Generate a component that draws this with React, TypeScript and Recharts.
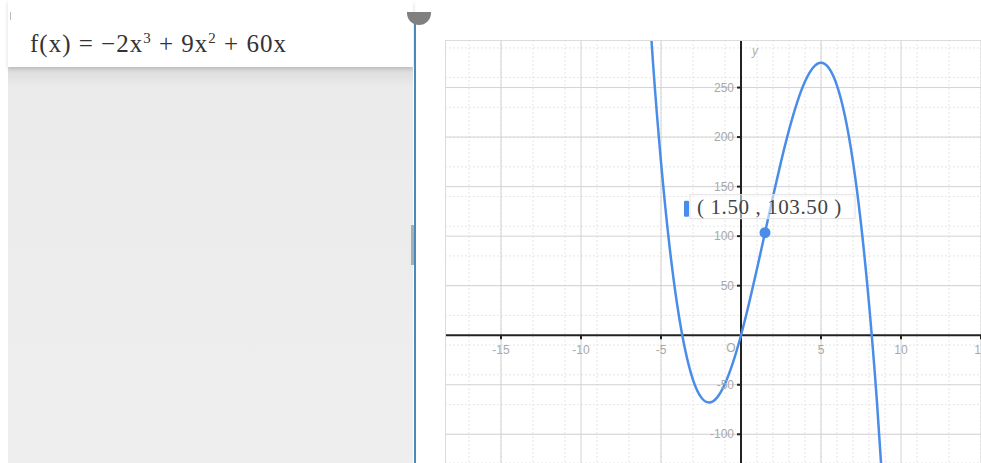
import React from 'react'
import { LineChart, Line, XAxis, YAxis, CartesianGrid, ReferenceLine, ReferenceDot } from 'recharts'

// f(x) = -2x^3 + 9x^2 + 60x, values read at half steps
const xValues = [-6, -5.5, -5, -4.5, -4, -3.5, -3, -2.5, -2, -1.5, -1, -0.5, 0, 0.5, 1, 1.5, 2, 2.5, 3, 3.5, 4, 4.5, 5, 5.5, 6, 6.5, 7, 7.5, 8, 8.5, 9]
const fValues = [396, 275, 175, 94.5, 32, -14, -45, -62.5, -68, -63, -49, -27.5, 0, 32, 67, 103.5, 140, 175, 207, 234.5, 256, 270, 275, 269.5, 252, 221, 175, 112.5, 32, -68, -189]

const minorX = [-18, -17, -16, -15, -14, -13, -12, -11, -10, -9, -8, -7, -6, -5, -4, -3, -2, -1, 0, 1, 2, 3, 4, 5, 6, 7, 8, 9, 10, 11, 12, 13, 14, 15]
const minorY = [-120, -110, -100, -90, -80, -70, -60, -50, -40, -30, -20, -10, 0, 10, 20, 30, 40, 50, 60, 70, 80, 90, 100, 110, 120, 130, 140, 150, 160, 170, 180, 190, 200, 210, 220, 230, 240, 250, 260, 270, 280, 290]
const majorX = [-15, -10, -5, 5, 10, 15]
const majorY = [-100, -50, 50, 100, 150, 200, 250]

const point = { x: 1.5, y: 103.5 }

const data = xValues.map((x, i) => ({ x, y: fValues[i] }))

const tickFont = { fontFamily: 'Liberation Sans, Arial, sans-serif', fontSize: 12, fill: '#a8a8a8' }

function XMark(props: any) {
  const { cx, cy, value } = props
  return (
    <g>
      <line x1={cx} y1={cy} x2={cx} y2={cy + 4} stroke="#222" strokeWidth={2} />
      <text x={cx} y={cy + 19} textAnchor="middle" {...tickFont}>{value}</text>
    </g>
  )
}

function YMark(props: any) {
  const { cx, cy, value } = props
  return (
    <g>
      <line x1={cx - 4} y1={cy} x2={cx} y2={cy} stroke="#222" strokeWidth={2} />
      <text x={cx - 7} y={cy + 4} textAnchor="end" {...tickFont}>{value}</text>
    </g>
  )
}

function PointLabel(props: any) {
  const { cx, cy } = props
  return (
    <g>
      <rect x={cx - 75} y={cy - 38} width={165} height={24} fill="rgba(255,255,255,0.55)" stroke="#e2e2e2" />
      <rect x={cx - 81} y={cy - 32} width={5} height={16} fill="#4a8de8" rx={1} />
      <text x={cx - 68} y={cy - 19} fontFamily="Liberation Serif, serif" fontSize={21} letterSpacing={0.6} fill="#444">
        ( 1.50 , 103.50 )
      </text>
      <circle cx={cx} cy={cy} r={5.5} fill="#4a8de8" />
    </g>
  )
}

export default function App() {
  return (
    <div style={{ position: 'absolute', left: 0, top: 0, width: 981, height: 463, background: '#fff', overflow: 'hidden' }}>
      {/* left algebra panel */}
      <div style={{ position: 'absolute', left: 8, top: 67, width: 405, height: 396, background: 'linear-gradient(#dadada, #ebebeb 20px, #eeeeee)' }} />
      <div style={{ position: 'absolute', left: 8, top: 0, width: 405, height: 67, background: '#fff', boxShadow: '0 2px 4px rgba(0,0,0,0.15)' }}>
        <div style={{ position: 'absolute', left: 22, top: 30, fontFamily: 'Liberation Serif, serif', fontSize: 25, letterSpacing: 1, color: '#333', whiteSpace: 'nowrap' }}>
          f(x) = −2x<sup style={{ fontSize: 15 }}>3</sup> + 9x<sup style={{ fontSize: 15 }}>2</sup> + 60x
        </div>
      </div>
      <div style={{ position: 'absolute', left: 10, top: 12, width: 1, height: 8, background: '#bbb' }} />
      <div style={{ position: 'absolute', left: 411, top: 225, width: 3, height: 40, background: '#a4afb6' }} />
      <div style={{ position: 'absolute', left: 414, top: 18, width: 2, height: 445, background: '#4b8ab8' }} />
      <div style={{ position: 'absolute', left: 407, top: 12, width: 24, height: 13, background: '#808080', borderRadius: '0 0 12px 12px' }} />

      {/* graphics view */}
      <div style={{ position: 'absolute', left: 445, top: 40 }}>
        <LineChart width={536} height={423} data={data} margin={{ top: 0, right: 0, bottom: 0, left: 0 }}>
          <XAxis dataKey="x" type="number" domain={[-18.5, 15]} ticks={minorX} allowDataOverflow hide />
          <YAxis type="number" domain={[-129, 298]} ticks={minorY} allowDataOverflow hide />
          <CartesianGrid stroke="#e6e6e6" strokeDasharray="2 2" />
          {majorX.map(v => (
            <ReferenceLine key={'gx' + v} x={v} stroke="#d2d2d2" strokeWidth={1} />
          ))}
          {majorY.map(v => (
            <ReferenceLine key={'gy' + v} y={v} stroke="#d2d2d2" strokeWidth={1} />
          ))}
          <ReferenceLine x={0} stroke="#222" strokeWidth={2} />
          <ReferenceLine y={0} stroke="#222" strokeWidth={2} />
          {majorX.map(v => (
            <ReferenceDot key={'tx' + v} x={v} y={0} r={0} shape={(p: any) => <XMark {...p} value={v} />} />
          ))}
          {majorY.map(v => (
            <ReferenceDot key={'ty' + v} x={0} y={v} r={0} shape={(p: any) => <YMark {...p} value={v} />} />
          ))}
          <ReferenceDot x={0} y={0} r={0} shape={(p: any) => (
            <text x={p.cx - 10} y={p.cy + 17} textAnchor="middle" {...tickFont}>O</text>
          )} />
          <Line
            type="natural"
            dataKey="y"
            stroke="#4a8de8"
            strokeWidth={2.5}
            dot={false}
            isAnimationActive={false}
          />
          <ReferenceDot x={point.x} y={point.y} r={0} shape={(p: any) => <PointLabel {...p} />} />
        </LineChart>
        <div style={{ position: 'absolute', left: 0, top: 0, width: 536, height: 423, borderTop: '1px solid #dcdcdc', borderLeft: '1px solid #dcdcdc', boxSizing: 'border-box', pointerEvents: 'none' }} />
        <div style={{ position: 'absolute', left: 307, top: 4, fontFamily: 'Liberation Sans, sans-serif', fontStyle: 'italic', fontSize: 12, color: '#b0b0b0' }}>y</div>
      </div>
    </div>
  )
}
